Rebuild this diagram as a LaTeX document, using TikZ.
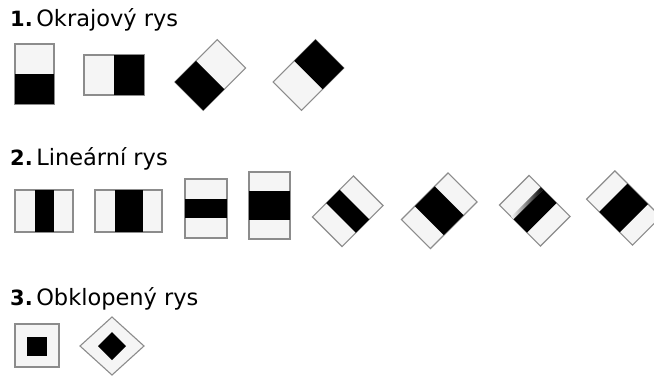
\documentclass[tikz,border=0pt]{standalone}
\usepackage{fontspec}
\setmainfont{DejaVu Sans}
\newcommand\bandbox[7]{%
  \begin{scope}[shift={(#1,#2)},rotate=#3]
    \path[light] (-#4/2,-#5/2) rectangle (#4/2,#5/2);
    \draw[frame] (-#4/2,-#5/2) rectangle (#4/2,#5/2);
    \path[dark] (#6,-#5/2) rectangle (#7,#5/2);
  \end{scope}}
\newcommand\numlabel[1]{{\fontsize{21}{24}\selectfont\bfseries #1}\hspace{3.5pt}}
\begin{document}
\begin{tikzpicture}[x=1pt,y=-1pt]
\tikzset{
  frame/.style={draw=black!45,line width=1.1pt},
  light/.style={fill=black!4},
  dark/.style={fill=black},
  title/.style={anchor=base west,inner sep=0pt,font=\fontsize{22.5}{26}\selectfont}
}
\useasboundingbox (0,0) rectangle (654,378);
\clip (0,0) rectangle (654,378);
\fill[white] (0,0) rectangle (654,378);

% titles
\node[title] (t1) at (10,26.5) {\numlabel{1.}Okrajový rys};
\node[title] (t2) at (10,165) {\numlabel{2.}Lineární rys};
\node[title] (t3) at (10,305) {\numlabel{3.}Obklopený rys};

% row 1
\bandbox{34.5}{74}{-90}{60}{39}{0}{30}
\bandbox{114}{75}{0}{60}{40}{0}{30}
\bandbox{210.25}{75}{45}{60}{40}{-30}{0}
\bandbox{308.5}{75}{45}{60}{40}{0}{30}

% row 2
\bandbox{44}{211}{0}{58}{42}{-9.5}{9.5}
\bandbox{128.5}{211}{0}{67}{42}{-14}{14}
\bandbox{206}{208.5}{90}{59}{42}{-9.5}{9.5}
\bandbox{269.5}{205.5}{90}{67}{41}{-14.5}{14.5}
\bandbox{347.75}{211.25}{45}{58}{42}{-9.5}{9.5}
\bandbox{439.25}{210.75}{45}{66}{41}{-14}{14}
\begin{scope}[shift={(534.75,210.75)},rotate=-45]
  \path[light] (-29,-21) rectangle (29,21);
  \draw[frame] (-29,-21) rectangle (29,21);
  \shade[left color=black!4,right color=black] (-12.5,-21) rectangle (-9,21);
  \path[dark] (-9,-21) rectangle (10,21);
\end{scope}
\bandbox{623.7}{208}{-45}{65}{40}{-14.5}{14.5}

% row 3
\path[light] (15,324) rectangle (59,367);
\draw[frame] (15,324) rectangle (59,367);
\path[dark] (27,337) rectangle (47,356);
\path[light] (80,346) -- (112,317) -- (144,346) -- (112,375) -- cycle;
\draw[frame] (80,346) -- (112,317) -- (144,346) -- (112,375) -- cycle;
\path[dark] (98,346) -- (112,332) -- (126,346) -- (112,360) -- cycle;
\end{tikzpicture}
\end{document}
